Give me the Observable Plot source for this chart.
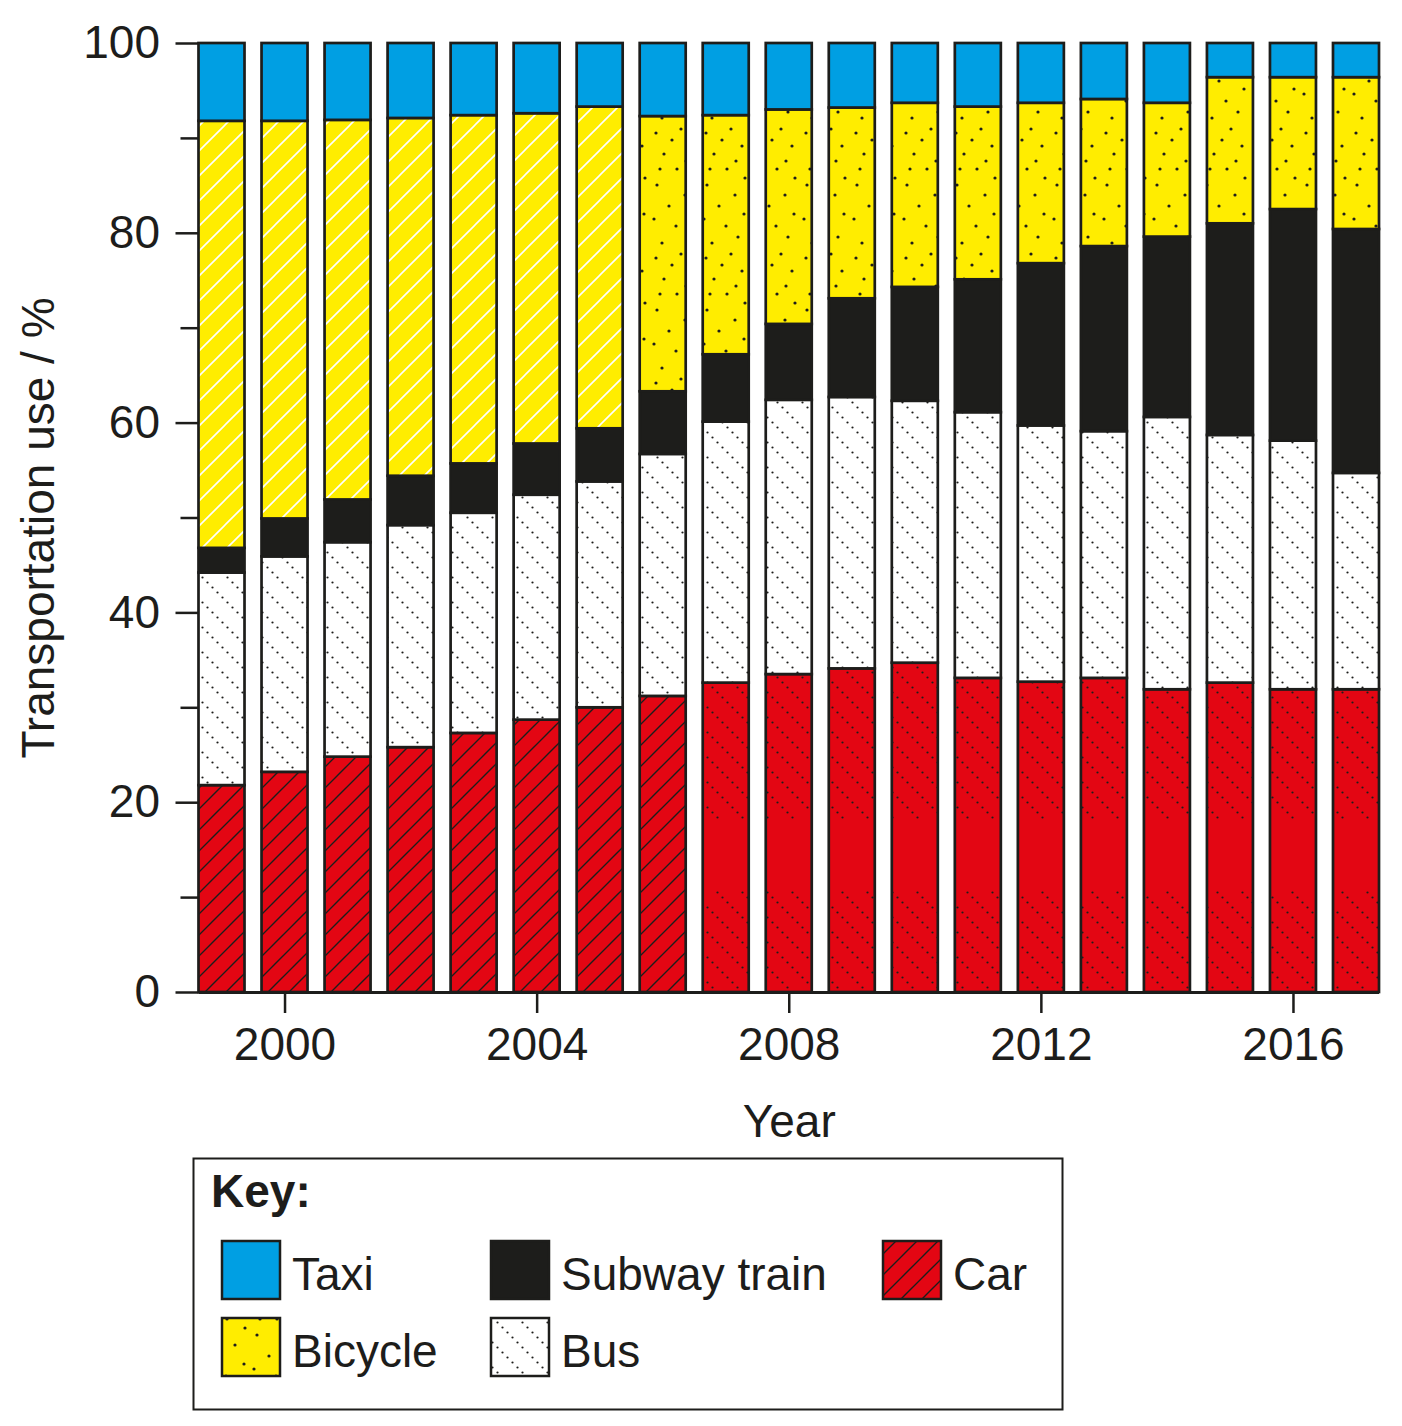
<!DOCTYPE html>
<html>
<head>
<meta charset="utf-8">
<script src="https://cdn.jsdelivr.net/npm/d3@7"></script>
<script src="https://cdn.jsdelivr.net/npm/@observablehq/plot@0.6"></script>
<style>
  body { margin: 0; background: #fff; }
  #chart { position: relative; width: 1402px; height: 1426px; background: #fff; }
  #chart svg { display: block; }
</style>
</head>
<body>
<div id="chart"></div>
<script>
// Share of each transportation mode per year (percent), stacked bottom to top:
// car, bus, subway train, bicycle, taxi.
const years   = [1999, 2000, 2001, 2002, 2003, 2004, 2005, 2006, 2007, 2008, 2009, 2010, 2011, 2012, 2013, 2014, 2015, 2016, 2017];
const car     = [21.8, 23.2, 24.8, 25.8, 27.3, 28.7, 30.0, 31.2, 32.6, 33.5, 34.1, 34.7, 33.1, 32.7, 33.1, 31.9, 32.6, 31.9, 31.9];
const bus     = [22.4, 22.7, 22.6, 23.4, 23.2, 23.7, 23.8, 25.5, 27.5, 28.9, 28.6, 27.6, 28.0, 27.0, 26.0, 28.7, 26.1, 26.2, 22.8];
const subway  = [ 2.6,  4.0,  4.5,  5.2,  5.2,  5.4,  5.6,  6.6,  7.1,  8.0, 10.4, 12.0, 14.0, 17.1, 19.5, 19.0, 22.3, 24.4, 25.7];
const bicycle = [45.0, 41.9, 40.0, 37.7, 36.7, 34.8, 33.9, 29.0, 25.2, 22.6, 20.1, 19.4, 18.2, 16.9, 15.5, 14.1, 15.4, 13.9, 16.0];
const taxi    = [ 8.2,  8.2,  8.1,  7.9,  7.6,  7.4,  6.7,  7.7,  7.6,  7.0,  6.8,  6.3,  6.7,  6.3,  5.9,  6.3,  3.6,  3.6,  3.6];

const yTicks = [0, 20, 40, 60, 80, 100];
const yMinorTicks = [10, 30, 50, 70, 90];
const xTicks = [2000, 2004, 2008, 2012, 2016];

const yLabel = "Transportation use / %";
const xLabel = "Year";
const keyTitle = "Key:";

const INK = "#1d1d1b";
const FONT = '"Liberation Sans", Arial, Helvetica, sans-serif';
const FS = 46;
const W = 1402, H = 1150;

// Series in stacking order with their fill styles
const series = [
  {name: "Car",          values: car,     fill: y => y < 2007 ? "url(#carHatch)" : "url(#carDots)"},
  {name: "Bus",          values: bus,     fill: () => "url(#busDots)"},
  {name: "Subway train", values: subway,  fill: () => INK},
  {name: "Bicycle",      values: bicycle, fill: y => y < 2006 ? "url(#bikeHatch)" : "url(#bikeDots)"},
  {name: "Taxi",         values: taxi,    fill: () => "#009fe3"}
];

// Stacked segments: y1/y2 are cumulative shares
const rows = [];
years.forEach((year, i) => {
  let base = 0;
  for (const s of series) {
    const v = s.values[i];
    rows.push({year, mode: s.name, y1: base, y2: base + v, fill: s.fill(year)});
    base += v;
  }
});

const half = 0.365; // half bar width in years

const plot = Plot.plot({
  width: W,
  height: H,
  marginLeft: 198.5,
  marginRight: 23,
  marginTop: 43,
  marginBottom: 158,
  style: {fontFamily: FONT, fontSize: `${FS}px`, color: INK, background: "white", overflow: "visible"},
  x: {domain: [years[0] - half, years[years.length - 1] + half]},
  y: {domain: [0, 100]},
  color: {type: "identity"},
  marks: [
    Plot.rect(rows, {
      x1: d => d.year - half,
      x2: d => d.year + half,
      y1: "y1",
      y2: "y2",
      fill: "fill",
      stroke: INK,
      strokeWidth: 2.7,
      inset: 0
    }),
    Plot.ruleY([0], {stroke: INK, strokeWidth: 3}),
    Plot.axisY(yTicks, {tickSize: 23, tickPadding: 16, fontSize: FS, strokeWidth: 2.5, stroke: INK, fill: INK, label: null}),
    Plot.axisY(yMinorTicks, {tickSize: 18, tickFormat: () => "", strokeWidth: 2.5, stroke: INK, label: null}),
    Plot.axisX(xTicks, {tickSize: 21, tickPadding: 14, tickFormat: d => String(d), fontSize: FS, strokeWidth: 2.5, stroke: INK, fill: INK, label: null}),
    Plot.text([yLabel], {frameAnchor: "left", textAnchor: "middle", dx: -159.5, dy: 10, rotate: -90, fontSize: FS, fill: INK}),
    Plot.text([xLabel], {frameAnchor: "bottom", textAnchor: "middle", dy: 144, fontSize: FS, fill: INK})
  ]
});

document.getElementById("chart").appendChild(plot);

// Fill patterns used by the bars and the key
const defs = d3.select(plot).insert("defs", ":first-child");

function diagonalHatch(id, bg, line, period, width) {
  const p = defs.append("pattern").attr("id", id)
    .attr("patternUnits", "userSpaceOnUse").attr("width", period).attr("height", period);
  p.append("rect").attr("width", period).attr("height", period).attr("fill", bg);
  const P = period;
  p.append("path")
    .attr("d", `M0,${P}L${P},0M${-P / 2},${P / 2}L${P / 2},${-P / 2}M${P / 2},${1.5 * P}L${1.5 * P},${P / 2}`)
    .attr("stroke", line).attr("stroke-width", width).attr("fill", "none");
}

// Rows of dots running down to the right
function dotDiagonals(id, bg, height, gap) {
  const p = defs.append("pattern").attr("id", id)
    .attr("patternUnits", "userSpaceOnUse").attr("width", 25).attr("height", height);
  p.append("rect").attr("width", 25).attr("height", height).attr("fill", bg);
  for (let k = 0; k * 5 < height; k++) {
    const y = k * 5 + 2.5;
    if (gap && y > gap[0] && y < gap[1]) continue;
    p.append("circle").attr("cx", (k * 5) % 25 + 2.5).attr("cy", y).attr("r", 1.1).attr("fill", INK);
  }
}

// Scattered stipple
function stipple(id, bg) {
  const pts = [[6, 8], [31, 4], [42, 21], [14, 29], [27, 44], [45, 53], [7, 60], [35, 70], [19, 81], [44, 89], [4, 94], [26, 101], [38, 112], [12, 118], [22, 15], [36, 36], [10, 44]];
  const p = defs.append("pattern").attr("id", id)
    .attr("patternUnits", "userSpaceOnUse").attr("width", 50).attr("height", 125);
  p.append("rect").attr("width", 50).attr("height", 125).attr("fill", bg);
  for (const [x, y] of pts) p.append("circle").attr("cx", x).attr("cy", y).attr("r", 1.6).attr("fill", INK);
}

diagonalHatch("carHatch", "#e30613", INK, 21, 1.4);
diagonalHatch("bikeHatch", "#ffed00", "#ffffff", 25, 1.6);
dotDiagonals("busDots", "#ffffff", 25, null);
dotDiagonals("carDots", "#e30613", H, [818, 892]);
stipple("bikeDots", "#ffed00");

// Key below the chart
const legendH = 1426 - H;
const legend = d3.select("#chart").append("svg")
  .attr("width", W).attr("height", legendH)
  .style("font-family", FONT);

legend.append("rect")
  .attr("x", 193.5).attr("y", 8.5).attr("width", 869).attr("height", 251)
  .attr("fill", "none").attr("stroke", INK).attr("stroke-width", 2);

legend.append("text")
  .attr("x", 211).attr("y", 57)
  .attr("font-size", FS).attr("font-weight", "bold").attr("fill", INK)
  .text(keyTitle);

const keyItems = [
  {name: "Taxi",         fill: "#009fe3",         col: 0, row: 0},
  {name: "Subway train", fill: INK,               col: 1, row: 0},
  {name: "Car",          fill: "url(#carHatch)",  col: 2, row: 0},
  {name: "Bicycle",      fill: "url(#bikeDots)",  col: 0, row: 1},
  {name: "Bus",          fill: "url(#busDots)",   col: 1, row: 1}
];
const colX = [222, 491, 883];
const rowY = [91, 168];

for (const item of keyItems) {
  const x = colX[item.col], y = rowY[item.row];
  legend.append("rect")
    .attr("x", x).attr("y", y).attr("width", 58).attr("height", 58)
    .attr("fill", item.fill).attr("stroke", INK).attr("stroke-width", 2.5);
  legend.append("text")
    .attr("x", x + 70).attr("y", y + 49)
    .attr("font-size", FS).attr("fill", INK)
    .text(item.name);
}
</script>
</body>
</html>
